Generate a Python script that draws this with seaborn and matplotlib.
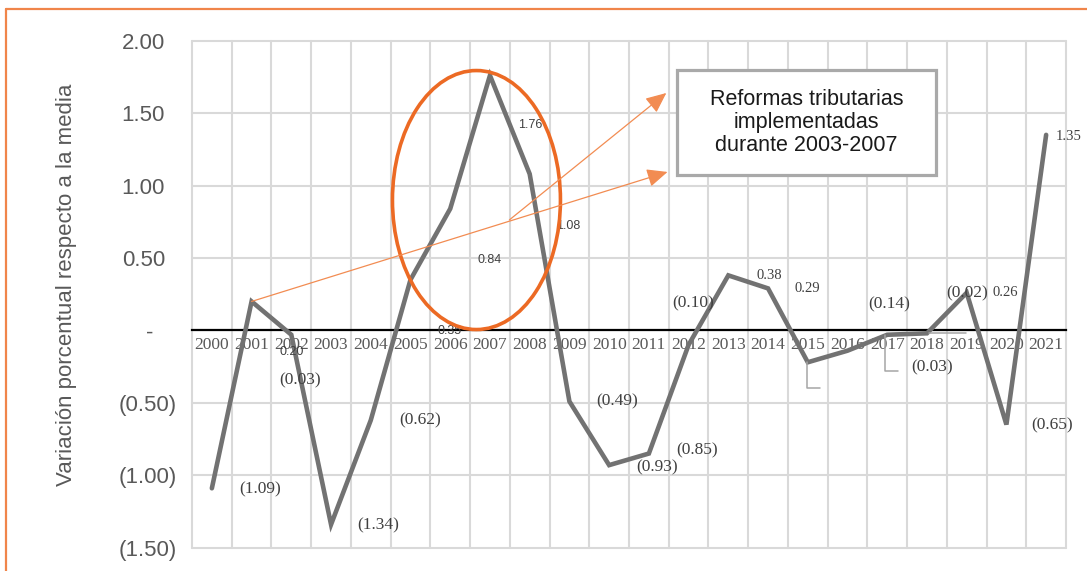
import numpy as np
import pandas as pd
import seaborn as sns
import matplotlib.pyplot as plt
from matplotlib.patches import Ellipse, Rectangle
from matplotlib.lines import Line2D
from matplotlib.transforms import ScaledTranslation

# Data ------------------------------------------------------------
years = [str(y) for y in range(2000, 2022)]
values = [-1.09, 0.20, -0.03, -1.34, -0.62, 0.35, 0.84, 1.76, 1.08, -0.49, -0.93,
          -0.85, -0.10, 0.38, 0.29, -0.22, -0.14, -0.03, -0.02, 0.26, -0.65, 1.35]
hidden_labels = ["2015"]
y_ticks = [-1.5, -1.0, -0.5, 0.0, 0.5, 1.0, 1.5, 2.0]
note = "Reformas tributarias\nimplementadas\ndurante 2003-2007"
ylabel = "Variación porcentual respecto a la media"

# label offsets from each point, pixels (right, down)
label_offsets = [(48, 1), (40, 51), (9, 46), (47, 1), (49, 0), (39, 51), (39, 51),
                 (40, 50), (39, 52), (48, 0), (48, 2), (48, -3), (5, -42), (41, 0),
                 (39, 0), (0, 0), (42, -46), (45, 33), (40, -40), (39, 0), (46, 1), (23, 2)]
sans_labels = ["2001", "2005", "2006", "2007", "2008"]


def fmt(v):
    return f"({abs(v):.2f})" if v < 0 else f"{v:.2f}"


df = pd.DataFrame({"pos": np.arange(len(years)), "valor": values, "year": years})

sns.set_style("white")
plt.rcParams["font.family"] = ["Liberation Sans", "DejaVu Sans"]

W, H = 1087, 571
fig = plt.figure(figsize=(W / 100, H / 100), dpi=100)
ax_l, ax_r, ax_t, ax_b = 192, 1066, 40.7, 547.7
ax = fig.add_axes([ax_l / W, 1 - ax_b / H, (ax_r - ax_l) / W, (ax_b - ax_t) / H])

ax.set_xlim(-0.5, len(years) - 0.5)
ax.set_ylim(-1.5, 2.0)
px_cat = (ax_r - ax_l) / len(years)
px_unit = (ax_b - ax_t) / 3.5

gray_line = "#727272"
grid_c = "#d9d9d9"
orange = "#EC6A24"
orange_light = "#F28C52"

# grid (drawn by hand so the edge lines are not clipped)
for xb in np.arange(-0.5, len(years), 1):
    ax.axvline(xb, color=grid_c, lw=1.5, zorder=1, clip_on=False)
for t in y_ticks:
    ax.axhline(t, color=grid_c, lw=1.5, zorder=1, clip_on=False)
for s in ["top", "right", "left"]:
    ax.spines[s].set_visible(False)
ax.spines["bottom"].set_position(("data", 0))
ax.spines["bottom"].set_color("black")
ax.spines["bottom"].set_linewidth(1.6)
ax.spines["bottom"].set_zorder(3)

# main series
sns.lineplot(data=df, x="pos", y="valor", color=gray_line, lw=3.3, ax=ax,
             zorder=4, solid_joinstyle="miter")
ax.set_xlabel("")
ax.set_ylabel("")

# ticks
ax.set_xticks(df["pos"])
ax.set_xticklabels(years, family="Liberation Serif", fontsize=12.5, color="#595959")
ax.tick_params(axis="x", which="both", length=0, pad=4.5)
ax.set_yticks(y_ticks)
ylabs = [fmt(t) if t != 0 else "-" for t in y_ticks]
ax.set_yticklabels(ylabs, fontsize=16, color="#595959")
ax.tick_params(axis="y", length=0, pad=10.8)
for t, lab in zip(y_ticks, ax.get_yticklabels()):
    shift = 24 if t == 0 else (12 if t > 0 else 0)
    lab.set_transform(lab.get_transform() + ScaledTranslation(-shift / 100, 0, fig.dpi_scale_trans))

# data labels
for i, (yr, v) in enumerate(zip(years, values)):
    if yr in hidden_labels:
        continue
    dx, dy = label_offsets[i]
    if yr in sans_labels:
        kw = dict(family="Liberation Sans", fontsize=9, color="#404040")
    else:
        kw = dict(family="Liberation Serif", fontsize=12.5 if v < 0 else 10.5, color="#404040")
    ax.annotate(fmt(v), xy=(i, v), xytext=(dx, -dy), textcoords="offset pixels",
                ha="center", va="center", zorder=6, **kw)

# leader lines (pixel offsets from the point)
leaders = {"2015": [(-1, 0), (-1, 26), (12, 26)],
           "2017": [(-2, 0), (-2, 36), (11, 36)],
           "2018": [(2, 0), (39, 0)]}
for yr, pts in leaders.items():
    i = years.index(yr)
    xs = [i + p[0] / px_cat for p in pts]
    ys = [values[i] - p[1] / px_unit for p in pts]
    ax.plot(xs, ys, color="#a6a6a6", lw=1.1, zorder=5)

# orange ellipse around 2005-2008
ell = Ellipse((6.66, 0.90), width=168 / px_cat, height=259 / px_unit,
              fill=False, ec=orange, lw=2.6, zorder=7, clip_on=False)
ax.add_patch(ell)

# arrows from 2001 towards the note
start = (1, values[1])
tip_low = (11.47, 1.094)
tip_high = (11.44, 1.639)
branch = (7.49, 0.763)
arrow_kw = dict(arrowstyle="-|>,head_length=0.9,head_width=0.4", color=orange_light,
                lw=0.9, mutation_scale=14, shrinkA=0, shrinkB=0)
ax.annotate("", xy=tip_low, xytext=start, arrowprops=arrow_kw, zorder=8)
ax.annotate("", xy=tip_high, xytext=branch, arrowprops=arrow_kw, zorder=8)

# note box
bx0, bx1, by0, by1 = 677, 936, 70, 175
fig.add_artist(Rectangle((bx0 / W, 1 - by1 / H), (bx1 - bx0) / W, (by1 - by0) / H,
                         transform=fig.transFigure, fc="white", ec="#a9a9a9", lw=2.3, zorder=9))
fig.text((bx0 + bx1) / 2 / W, 1 - (by0 + by1) / 2 / H, note, ha="center", va="center",
         fontsize=15.5, color="#1a1a1a", linespacing=1.12, zorder=10)

# y label
fig.text(66.5 / W, 1 - 285 / H, ylabel, rotation=90, ha="center", va="center",
         fontsize=16, color="#595959")

# outer orange frame (top and left edges)
fig.add_artist(Line2D([5.5 / W, 1.0], [1 - 9.3 / H, 1 - 9.3 / H], color="#F0854A", lw=1.6,
                      transform=fig.transFigure))
fig.add_artist(Line2D([5.5 / W, 5.5 / W], [0, 1 - 9.3 / H], color="#F0854A", lw=1.6,
                      transform=fig.transFigure))

fig.savefig("out.png", dpi=100)
